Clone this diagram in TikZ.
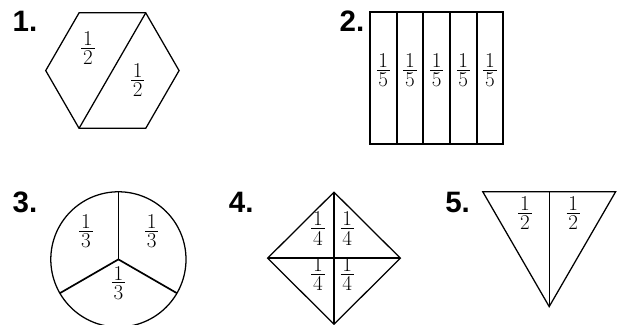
\documentclass[tikz,border=0pt]{standalone}
\usepackage{fontspec}
\newfontfamily\numfont{Liberation Sans}
% stacked fraction with a tight bar
\newcommand{\frpart}[2]{\vbox{\halign{\hfil\kern1.2pt##\kern1.2pt\hfil\cr
    #1\cr\noalign{\kern1.5pt\hrule height0.6pt\kern1.5pt}#2\cr}}}
\begin{document}
\begin{tikzpicture}[
    numlabel/.style={font=\numfont\bfseries\fontsize{21}{24}\selectfont, inner sep=0pt},
    fraclabel/.style={font=\fontsize{15}{17}\selectfont, inner sep=0pt},
    outline/.style={draw=black, line width=0.9pt, line join=miter},
    heavy/.style={draw=black, line width=1.2pt}
]
\useasboundingbox (0,0) rectangle (15.55,8.125);

% ---------- 1. hexagon cut in two halves ----------
\begin{scope}[shift={(2.81,6.36)}]
    \draw[outline] (0:1.667) \foreach \a in {60,120,...,300}{ -- (\a:1.667) } -- cycle;
    \draw[outline] (60:1.667) -- (240:1.667);
    \node[fraclabel] (hexa) at (-0.61,0.56) {\frpart{1}{2}};
    \node[fraclabel] (hexb) at (0.63,-0.24) {\frpart{1}{2}};
\end{scope}
\node[numlabel] (one) at (0.625,7.6) {1.};

% ---------- 2. rectangle cut in five strips ----------
\begin{scope}[shift={(9.25,4.52)}]
    \draw[heavy] (0,0) rectangle (3.333,3.31);
    % 4 vertical dividers -> 5 strips
    \foreach \i in {1,...,4}{
        \draw[heavy] (\i*0.6667,0) -- (\i*0.6667,3.31);
    }
    \foreach \i in {0,...,4}{
        \node[fraclabel] (fifth\i) at (\i*0.6667+0.333,1.84) {\frpart{1}{5}};
    }
\end{scope}
\node[numlabel] (two) at (8.8,7.6) {2.};

% ---------- 3. circle cut in three thirds ----------
\begin{scope}[shift={(2.96,1.64)}]
    \draw[outline] (0,0) circle (1.69);
    \foreach \a in {90,210,330}{
        \draw[heavy] (0,0) -- (\a:1.69);
    }
    \node[fraclabel] (thirda) at (-0.81,0.7) {\frpart{1}{3}};
    \node[fraclabel] (thirdb) at (0.83,0.7) {\frpart{1}{3}};
    \node[fraclabel] (thirdc) at (0,-0.59) {\frpart{1}{3}};
\end{scope}
\node[numlabel] (three) at (0.625,3.075) {3.};

% ---------- 4. diamond cut in four quarters ----------
\begin{scope}[shift={(8.35,1.67)}]
    \draw[outline] (0,1.65) -- (1.66,0) -- (0,-1.65) -- (-1.66,0) -- cycle;
    \draw[heavy] (0,1.65) -- (0,-1.65);
    \draw[heavy] (-1.66,0) -- (1.66,0);
    \node[fraclabel] (quarta) at (-0.4,0.74) {\frpart{1}{4}};
    \node[fraclabel] (quartb) at (0.33,0.74) {\frpart{1}{4}};
    \node[fraclabel] (quartc) at (-0.4,-0.4) {\frpart{1}{4}};
    \node[fraclabel] (quartd) at (0.33,-0.4) {\frpart{1}{4}};
\end{scope}
\node[numlabel] (four) at (6.03,3.075) {4.};

% ---------- 5. triangle cut in two halves ----------
\draw[outline] (12.07,3.33) -- (15.39,3.33) -- (13.73,0.46) -- cycle;
\draw[outline] (13.73,3.33) -- (13.73,0.46);
\node[fraclabel] (trihalfa) at (13.125,2.8) {\frpart{1}{2}};
\node[fraclabel] (trihalfb) at (14.33,2.8) {\frpart{1}{2}};
\node[numlabel] (five) at (11.44,3.075) {5.};

\end{tikzpicture}
\end{document}
